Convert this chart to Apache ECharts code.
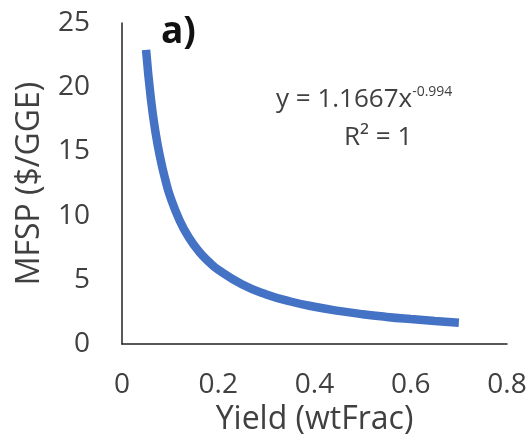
<!DOCTYPE html>
<html>
<head>
<meta charset="utf-8">
<script src="https://cdn.jsdelivr.net/npm/echarts@6/dist/echarts.min.js"></script>
<style>
  html, body { margin: 0; padding: 0; background: #fff; }
  #chart { width: 530px; height: 448px; }
</style>
</head>
<body>
<div id="chart"></div>
<script>
// Yield (weight fraction) vs. minimum fuel selling price
const yieldFrac = [0.05, 0.06, 0.07, 0.08, 0.09, 0.10, 0.12, 0.14, 0.16, 0.18, 0.20,
                   0.25, 0.30, 0.35, 0.40, 0.45, 0.50, 0.55, 0.60, 0.65, 0.70];
const mfsp = [22.9, 19.1, 16.4, 14.4, 12.8, 11.5, 9.6, 8.24, 7.21, 6.42, 5.78,
              4.63, 3.86, 3.31, 2.90, 2.58, 2.32, 2.11, 1.94, 1.79, 1.66];
const xTicks = [0, 0.2, 0.4, 0.6, 0.8];
const yTicks = [0, 5, 10, 15, 20, 25];

const FONT = 'Open Sans';
const TXT = '#404040';

const chart = echarts.init(document.getElementById('chart'), null, { renderer: 'canvas' });
chart.setOption({
  animation: false,
  grid: { left: 122, right: 23, top: 23, bottom: 104 },
  xAxis: {
    type: 'value',
    min: xTicks[0], max: xTicks[xTicks.length - 1], interval: 0.2,
    name: 'Yield (wtFrac)', nameLocation: 'middle', nameGap: 60,
    nameTextStyle: { fontFamily: FONT, fontSize: 32, color: TXT },
    axisLine: { lineStyle: { color: '#222', width: 1.5 } },
    axisTick: { show: false },
    splitLine: { show: false },
    axisLabel: { fontFamily: FONT, fontSize: 28, color: TXT, margin: 27,
                 formatter: v => String(Math.round(v * 10) / 10) }
  },
  yAxis: {
    type: 'value',
    min: yTicks[0], max: yTicks[yTicks.length - 1], interval: 5,
    name: 'MFSP ($/GGE)', nameLocation: 'middle', nameGap: 76,
    nameTextStyle: { fontFamily: FONT, fontSize: 32, color: TXT },
    axisLine: { show: true, lineStyle: { color: '#222', width: 1.5 } },
    axisTick: { show: false },
    splitLine: { show: false },
    axisLabel: { fontFamily: FONT, fontSize: 28, color: TXT, margin: 32 }
  },
  series: [{
    type: 'line',
    data: yieldFrac.map((x, i) => [x, mfsp[i]]),
    smooth: true,
    showSymbol: false,
    lineStyle: { color: '#4472C4', width: 8.5 }
  }],
  graphic: [
    { type: 'text', left: 161, top: 14,
      style: { text: 'a)', fontFamily: FONT, fontSize: 37, fontWeight: 'bold', fill: '#111' } },
    { type: 'text', left: 276, top: 85,
      style: {
        text: '{m|y = 1.1667x}{s|-0.994}',
        rich: {
          m: { fontFamily: FONT, fontSize: 26, fill: TXT },
          s: { fontFamily: FONT, fontSize: 14, fill: TXT, verticalAlign: 'top', padding: [0, 0, 15, 0] }
        }
      } },
    { type: 'text', left: 344, top: 125,
      style: { text: 'R² = 1', fontFamily: FONT, fontSize: 26, fill: TXT } }
  ]
});
</script>
</body>
</html>
